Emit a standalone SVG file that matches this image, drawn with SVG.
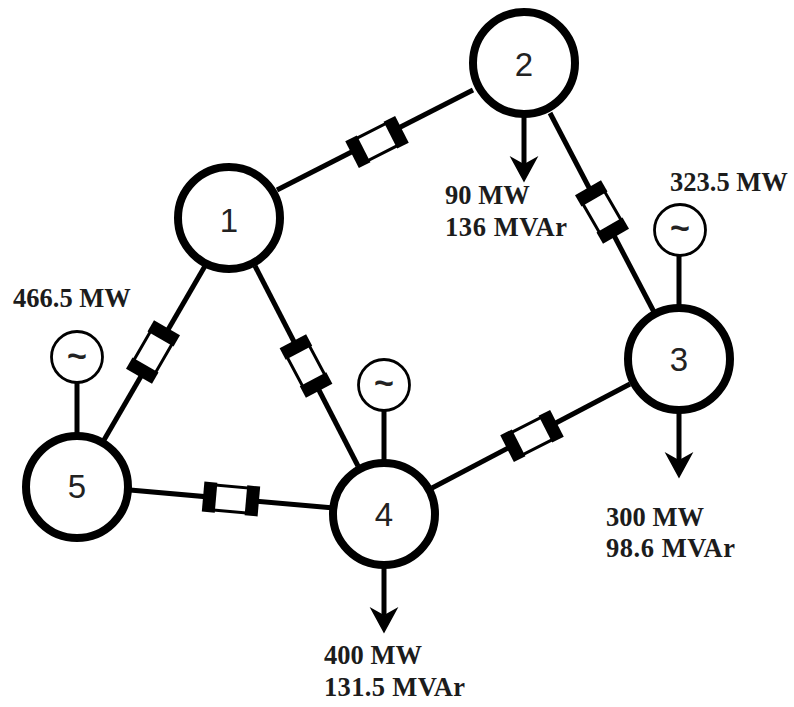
<svg xmlns="http://www.w3.org/2000/svg" width="794" height="707" viewBox="0 0 794 707">
<style>
.bus{fill:#fff;stroke:#000;stroke-width:8}
.gen{fill:#fff;stroke:#000;stroke-width:2.8}
.ln{fill:none;stroke:#000;stroke-width:5}
.num{font-family:"Liberation Sans",Arial,sans-serif;font-size:33px;fill:#222;text-anchor:middle}
.til{font-family:"Liberation Sans",Arial,sans-serif;font-size:34px;font-weight:bold;fill:#222;text-anchor:middle}
.lbl{font-family:"Liberation Serif","Times New Roman",serif;font-size:26.5px;font-weight:bold;fill:#1c1c1c}
.box{fill:#fff;stroke:#000;stroke-width:3}
</style>
<defs>
<g id="breaker">
<rect class="box" x="-24" y="-12.5" width="48" height="25"/>
<rect x="-28" y="-15" width="13" height="30" fill="#000"/>
<rect x="15" y="-15" width="13" height="30" fill="#000"/>
</g>
<path id="head" d="M-12.5 -23 L0 -16 L12.5 -23 L0 0 Z" fill="#000" stroke="#000" stroke-width="1.5" stroke-linejoin="miter"/>
</defs>
<g id="connectors">
<line class="ln" x1="277" y1="190" x2="473" y2="90"/>
<line class="ln" x1="550" y1="113" x2="654" y2="312"/>
<line class="ln" x1="255" y1="266" x2="358" y2="466"/>
<line class="ln" x1="104" y1="440" x2="205" y2="266"/>
<line class="ln" x1="130" y1="490" x2="334" y2="508"/>
<line class="ln" x1="432" y1="488" x2="630" y2="384"/>
<line class="ln" x1="77" y1="380" x2="77" y2="434"/>
<line class="ln" x1="384" y1="410" x2="384" y2="462"/>
<line class="ln" x1="679" y1="254" x2="679" y2="308"/>
<line class="ln" x1="524" y1="116" x2="524" y2="165"/>
<line class="ln" x1="384" y1="566" x2="384" y2="615"/>
<line class="ln" x1="679" y1="412" x2="679" y2="460"/>
<use href="#head" transform="translate(524,181)"/>
<use href="#head" transform="translate(384,632)"/>
<use href="#head" transform="translate(679,477)"/>
<use href="#breaker" transform="translate(377,142) rotate(-27)"/>
<use href="#breaker" transform="translate(602,212) rotate(-120)"/>
<use href="#breaker" transform="translate(306,366) rotate(62)"/>
<use href="#breaker" transform="translate(153,352) rotate(-60)"/>
<use href="#breaker" transform="translate(231,499) rotate(5)"/>
<use href="#breaker" transform="translate(532,436) rotate(-27)"/>
</g>
<g id="node-1"><circle class="bus" cx="229" cy="218" r="51"/><text class="num" x="229" y="232">1</text></g>
<g id="node-2"><circle class="bus" cx="524" cy="63" r="51"/><text class="num" x="524" y="76">2</text></g>
<g id="node-3"><circle class="bus" cx="679" cy="359" r="51"/><text class="num" x="679" y="371">3</text></g>
<g id="node-4"><circle class="bus" cx="384" cy="514" r="51"/><text class="num" x="384" y="526">4</text></g>
<g id="node-5"><circle class="bus" cx="77" cy="487" r="51"/><text class="num" x="77" y="498">5</text></g>
<g id="gen-5"><circle class="gen" cx="77" cy="357" r="25.5"/><text class="til" x="77" y="367">~</text></g>
<g id="gen-4"><circle class="gen" cx="384" cy="385" r="25.5"/><text class="til" x="384" y="394">~</text></g>
<g id="gen-3"><circle class="gen" cx="680" cy="230" r="25.5"/><text class="til" x="680" y="239">~</text></g>
<g id="labels">
<text class="lbl" x="445" y="204">90 MW</text>
<text class="lbl" x="445" y="236" textLength="122">136 MVAr</text>
<text class="lbl" x="670" y="191">323.5 MW</text>
<text class="lbl" x="13" y="307">466.5 MW</text>
<text class="lbl" x="606" y="526">300 MW</text>
<text class="lbl" x="606" y="557" textLength="129">98.6 MVAr</text>
<text class="lbl" x="324" y="664">400 MW</text>
<text class="lbl" x="324" y="696" textLength="141">131.5 MVAr</text>
</g>
</svg>
